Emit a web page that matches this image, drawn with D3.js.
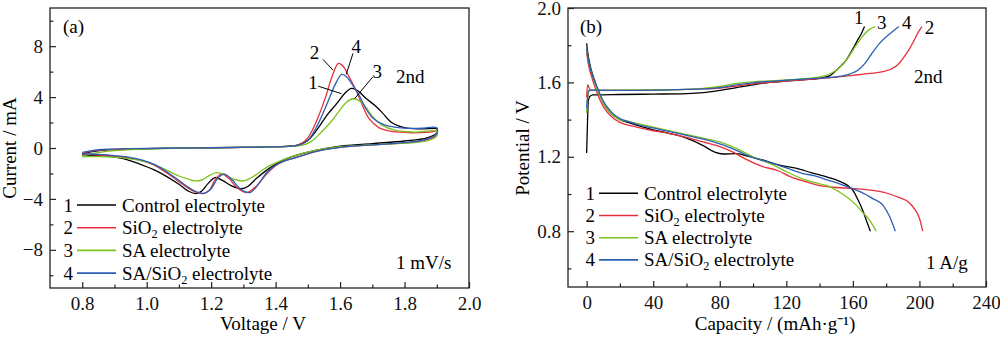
<!DOCTYPE html>
<html>
<head>
<meta charset="utf-8">
<script src="https://cdn.jsdelivr.net/npm/d3@7"></script>
<style>
  body { margin: 0; background: #fff; }
  svg text { font-family: "Liberation Serif", "Times New Roman", serif; }
</style>
</head>
<body>
<svg width="1000" height="337"></svg>
<script>
// Series names and colours (same order in both panels)
const seriesNames = ["Control electrolyte", "SiO2 electrolyte", "SA electrolyte", "SA/SiO2 electrolyte"];
const seriesColors = ["#000000", "#e8303c", "#7dc21c", "#2b5fb4"];

// (a) CV curves, [voltage V, current mA], anodic scan then cathodic scan
const cvControl = [[0.80,-0.50],[0.83,-0.28],[0.88,-0.15],[0.95,-0.08],[1.05,-0.03],[1.20,0.02],[1.35,0.08],[1.44,0.15],[1.47,0.25],[1.50,0.6],[1.53,1.5],[1.56,2.6],[1.59,3.5],[1.615,4.3],[1.635,4.68],[1.655,4.5],[1.68,3.9],[1.71,3.3],[1.73,2.8],[1.76,2.0],[1.80,1.6],[1.85,1.5],[1.90,1.5],
  [1.90,1.2],[1.87,0.8],[1.80,0.55],[1.70,0.35],[1.60,0.15],[1.52,-0.2],[1.46,-0.6],[1.42,-1.0],[1.38,-1.6],[1.34,-2.4],[1.315,-3.0],[1.294,-3.2],[1.265,-3.0],[1.235,-2.55],[1.212,-2.32],[1.19,-2.8],[1.17,-3.4],[1.153,-3.58],[1.13,-3.4],[1.10,-2.85],[1.03,-1.8],[0.98,-1.28],[0.93,-0.85],[0.876,-0.63],[0.84,-0.58],[0.80,-0.56]];
const cvSiO2 = [[0.80,-0.42],[0.83,-0.25],[0.88,-0.13],[0.95,-0.07],[1.05,-0.03],[1.20,0.02],[1.35,0.07],[1.44,0.13],[1.47,0.22],[1.50,0.8],[1.53,2.3],[1.555,4.0],[1.575,5.6],[1.595,6.64],[1.61,6.4],[1.63,5.5],[1.65,4.5],[1.67,3.3],[1.69,2.3],[1.72,1.6],[1.76,1.3],[1.82,1.2],[1.88,1.25],[1.90,1.3],
  [1.90,1.05],[1.87,0.65],[1.80,0.4],[1.70,0.25],[1.60,0.05],[1.52,-0.3],[1.47,-0.7],[1.43,-1.0],[1.40,-1.4],[1.37,-2.1],[1.34,-3.0],[1.31,-3.5],[1.28,-3.1],[1.255,-2.4],[1.232,-2.06],[1.212,-2.5],[1.195,-3.3],[1.176,-3.58],[1.15,-3.45],[1.12,-3.0],[1.07,-2.1],[1.02,-1.3],[0.96,-0.85],[0.90,-0.65],[0.85,-0.55],[0.80,-0.5]];
const cvSA = [[0.80,-0.65],[0.83,-0.45],[0.88,-0.25],[0.95,-0.12],[1.05,-0.04],[1.20,0.02],[1.35,0.07],[1.44,0.12],[1.48,0.2],[1.51,0.5],[1.54,1.2],[1.57,2.0],[1.60,3.0],[1.62,3.6],[1.64,3.87],[1.66,3.7],[1.68,3.2],[1.70,2.5],[1.73,1.8],[1.77,1.4],[1.83,1.25],[1.90,1.3],
  [1.90,0.95],[1.87,0.55],[1.80,0.38],[1.70,0.25],[1.60,0.1],[1.52,-0.2],[1.46,-0.6],[1.42,-0.95],[1.38,-1.4],[1.35,-1.9],[1.32,-2.4],[1.30,-2.59],[1.27,-2.45],[1.24,-2.05],[1.217,-1.93],[1.195,-2.15],[1.172,-2.5],[1.153,-2.59],[1.13,-2.45],[1.10,-2.2],[1.05,-1.6],[1.00,-1.1],[0.95,-0.85],[0.90,-0.72],[0.85,-0.68],[0.80,-0.68]];
const cvSASiO2 = [[0.80,-0.35],[0.83,-0.2],[0.88,-0.1],[0.95,-0.05],[1.05,-0.02],[1.20,0.02],[1.35,0.07],[1.44,0.13],[1.47,0.2],[1.50,0.6],[1.53,1.8],[1.56,3.5],[1.585,5.0],[1.605,5.78],[1.62,5.6],[1.64,4.9],[1.66,4.1],[1.68,3.1],[1.70,2.4],[1.73,1.9],[1.78,1.6],[1.85,1.55],[1.90,1.6],
  [1.90,1.15],[1.87,0.7],[1.80,0.42],[1.70,0.25],[1.60,0.05],[1.52,-0.3],[1.47,-0.7],[1.43,-1.0],[1.40,-1.35],[1.37,-2.0],[1.345,-2.9],[1.32,-3.5],[1.29,-3.2],[1.265,-2.5],[1.24,-2.06],[1.22,-2.4],[1.20,-3.2],[1.18,-3.55],[1.155,-3.45],[1.125,-3.0],[1.07,-2.0],[1.02,-1.25],[0.96,-0.8],[0.90,-0.6],[0.85,-0.5],[0.80,-0.45]];

// (b) charge / discharge curves, [capacity mAh/g, potential V]
const chargeControl = [[0,1.22],[0.5,1.38],[1,1.50],[2,1.525],[4,1.533],[20,1.535],[40,1.537],[60,1.54],[70,1.545],[80,1.557],[90,1.572],[100,1.587],[110,1.60],[120,1.607],[130,1.614],[140,1.622],[146,1.635],[150,1.665],[153,1.69],[156,1.72],[160,1.78],[163,1.83],[165,1.86],[167,1.9]];
const chargeSiO2 = [[0,1.52],[0.6,1.588],[1.5,1.57],[3,1.558],[20,1.557],[40,1.558],[60,1.562],[70,1.565],[80,1.57],[90,1.58],[100,1.592],[110,1.60],[120,1.607],[130,1.614],[140,1.62],[150,1.628],[160,1.638],[170,1.648],[178,1.658],[183,1.672],[187,1.695],[191,1.74],[194,1.78],[197,1.83],[199,1.865],[201.5,1.9]];
const chargeSA = [[0,1.435],[0.5,1.50],[1.2,1.55],[3,1.557],[20,1.558],[40,1.56],[60,1.563],[70,1.568],[80,1.578],[90,1.595],[100,1.603],[110,1.608],[120,1.613],[130,1.62],[140,1.63],[146,1.645],[150,1.665],[156,1.72],[162,1.80],[167,1.86],[170,1.885],[173.5,1.9]];
const chargeSASiO2 = [[0,1.46],[0.5,1.52],[1.3,1.557],[3,1.558],[20,1.557],[40,1.558],[60,1.562],[70,1.565],[80,1.572],[90,1.587],[100,1.598],[110,1.606],[120,1.612],[130,1.618],[140,1.623],[150,1.63],[158,1.645],[163,1.665],[167,1.70],[171,1.75],[176,1.81],[182,1.86],[187.5,1.9]];

const dischargeControl = [[0,1.81],[1,1.74],[3,1.66],[6,1.58],[10,1.49],[15,1.43],[20,1.40],[25,1.385],[30,1.37],[40,1.345],[50,1.325],[60,1.30],[70,1.26],[77,1.225],[82,1.215],[90,1.217],[96,1.205],[105,1.185],[116,1.155],[125,1.14],[135,1.115],[145,1.09],[152,1.068],[157,1.045],[160,1.02],[163,0.97],[166,0.91],[168,0.86],[170.5,0.80]];
const dischargeSiO2 = [[0,1.76],[1,1.70],[3,1.63],[6,1.55],[10,1.47],[15,1.415],[20,1.385],[25,1.37],[30,1.36],[40,1.34],[50,1.325],[60,1.305],[70,1.28],[80,1.255],[88,1.225],[95,1.19],[105,1.15],[115,1.125],[122,1.095],[130,1.07],[140,1.045],[150,1.035],[160,1.03],[168,1.024],[175,1.015],[182,1.0],[188,0.98],[193,0.96],[197,0.92],[200,0.87],[202,0.80]];
const dischargeSA = [[0,1.78],[1,1.72],[3,1.65],[6,1.57],[10,1.49],[15,1.43],[20,1.40],[25,1.39],[30,1.38],[40,1.36],[50,1.34],[60,1.32],[70,1.30],[80,1.28],[90,1.245],[100,1.20],[110,1.165],[120,1.12],[130,1.08],[140,1.055],[146,1.04],[152,1.01],[157,0.98],[162,0.94],[166,0.90],[170,0.86],[174,0.80]];
const dischargeSASiO2 = [[0,1.78],[1,1.72],[3,1.65],[6,1.58],[10,1.50],[15,1.44],[20,1.405],[25,1.39],[30,1.375],[40,1.355],[50,1.335],[60,1.315],[70,1.295],[80,1.27],[90,1.235],[100,1.195],[110,1.17],[120,1.14],[130,1.11],[136,1.10],[145,1.075],[152,1.055],[158,1.034],[165,1.01],[172,0.975],[178,0.94],[182,0.88],[185.5,0.80]];

// Tick values
const cvXMajor = [0.8, 1.0, 1.2, 1.4, 1.6, 1.8, 2.0];
const cvXMinor = [0.9, 1.1, 1.3, 1.5, 1.7, 1.9];
const cvYMajor = [-8, -4, 0, 4, 8];
const cvYMinor = [-10, -6, -2, 2, 6, 10];
const gcdXMajor = [0, 40, 80, 120, 160, 200, 240];
const gcdXMinor = [20, 60, 100, 140, 180, 220];
const gcdYMajor = [0.8, 1.2, 1.6, 2.0];
const gcdYMinor = [0.6, 1.0, 1.4, 1.8];

// Curve numbers: [label, text x, text y, line x1, y1, x2, y2] in data units
const cvNotes = [
  ["2", 1.521, 7.53, 1.547, 6.96, 1.578, 6.12],
  ["4", 1.650, 7.95, 1.640, 7.43, 1.619, 5.78],
  ["3", 1.715, 6.04, 1.702, 5.60, 1.645, 3.87],
  ["1", 1.516, 5.13, 1.532, 4.86, 1.604, 4.27]
];
const gcdNotes = [["1", 163.6, 1.948], ["3", 177.3, 1.924], ["4", 192.4, 1.924], ["2", 206.0, 1.894]];

const svg = d3.select("svg");
const FS = 19;
const SERIF = "'Liberation Serif', 'Times New Roman', serif";

// write "SiO2" with a subscript 2
function richText(sel, str) {
  const parts = str.split("O2");
  sel.append("tspan").text(parts[0] + (parts.length > 1 ? "O" : ""));
  if (parts.length > 1) {
    sel.append("tspan").attr("font-size", FS * 0.65).attr("dy", 4).text("2");
    sel.append("tspan").attr("dy", -4).text(parts[1]);
  }
}

function drawPanel(opt) {
  const g = svg.append("g");
  const x = d3.scaleLinear().domain(opt.xDomain).range([opt.left, opt.right]);
  const y = d3.scaleLinear().domain(opt.yDomain).range([opt.bottom, opt.top]);

  // axes with inward ticks
  g.append("g").attr("transform", `translate(0,${opt.bottom})`)
    .call(d3.axisBottom(x).tickValues(opt.xMajor).tickFormat(opt.xFmt).tickSizeInner(-6).tickSizeOuter(0).tickPadding(9));
  g.append("g").attr("transform", `translate(0,${opt.bottom})`)
    .call(d3.axisBottom(x).tickValues(opt.xMinor).tickFormat("").tickSizeInner(-3.5).tickSizeOuter(0));
  g.append("g").attr("transform", `translate(${opt.left},0)`)
    .call(d3.axisLeft(y).tickValues(opt.yMajor).tickFormat(opt.yFmt).tickSizeInner(-6).tickSizeOuter(0).tickPadding(7));
  g.append("g").attr("transform", `translate(${opt.left},0)`)
    .call(d3.axisLeft(y).tickValues(opt.yMinor).tickFormat("").tickSizeInner(-3.5).tickSizeOuter(0));
  g.selectAll(".domain").remove();
  g.selectAll(".tick line").attr("stroke", "#222").attr("stroke-width", 1.2);
  g.selectAll(".tick text").attr("font-size", FS).attr("fill", "#111");

  // frame
  g.append("rect")
    .attr("x", opt.left).attr("y", opt.top)
    .attr("width", opt.right - opt.left).attr("height", opt.bottom - opt.top)
    .attr("fill", "none").attr("stroke", "#222").attr("stroke-width", 1.3);

  // curves
  const line = d3.line().x(d => x(d[0])).y(d => y(d[1])).curve(opt.curve);
  opt.series.forEach(s => {
    g.append("path").datum(s.data)
      .attr("fill", "none").attr("stroke", s.color).attr("stroke-width", 1.3)
      .attr("d", line);
  });

  // axis titles
  g.append("text").attr("x", (opt.left + opt.right) / 2 + opt.xTitleShift).attr("y", 330)
    .attr("text-anchor", "middle").attr("font-size", FS).text(opt.xTitle);
  g.append("text").attr("transform", `translate(${opt.yTitleX},148) rotate(-90)`)
    .attr("text-anchor", "middle").attr("font-size", FS).text(opt.yTitle);

  // legend
  seriesNames.forEach((name, i) => {
    const ly = opt.legendY + i * opt.legendStep;
    g.append("text").attr("x", opt.legendX).attr("y", ly + 6.5)
      .attr("text-anchor", "end").attr("font-size", FS).text(i + 1);
    g.append("line").attr("x1", opt.legendX + 4).attr("x2", opt.legendX + 43)
      .attr("y1", ly).attr("y2", ly)
      .attr("stroke", seriesColors[i]).attr("stroke-width", 1.6);
    const t = g.append("text").attr("x", opt.legendX + 49).attr("y", ly + 6.5).attr("font-size", FS);
    richText(t, name);
  });

  return { g, x, y };
}

// Panel (a): cyclic voltammetry
const pa = drawPanel({
  left: 50, right: 469, top: 8, bottom: 288,
  xDomain: [0.7, 2.0], yDomain: [-11, 11],
  xMajor: cvXMajor, xMinor: cvXMinor, yMajor: cvYMajor, yMinor: cvYMinor,
  xFmt: d3.format(".1f"), yFmt: d3.format("d"),
  curve: d3.curveCatmullRom.alpha(0.5),
  series: [cvControl, cvSiO2, cvSA, cvSASiO2].map((d, i) => ({ data: d, color: seriesColors[i] })),
  xTitle: "Voltage / V", xTitleShift: 3.5, yTitle: "Current / mA", yTitleX: 16,
  legendX: 73, legendY: 205, legendStep: 22.7
});
cvNotes.forEach(n => {
  pa.g.append("line")
    .attr("x1", pa.x(n[3])).attr("y1", pa.y(n[4]))
    .attr("x2", pa.x(n[5])).attr("y2", pa.y(n[6]))
    .attr("stroke", "#000").attr("stroke-width", 1);
  pa.g.append("text").attr("x", pa.x(n[1])).attr("y", pa.y(n[2]) + 6.5)
    .attr("text-anchor", "middle").attr("font-size", FS).text(n[0]);
});
pa.g.append("text").attr("x", 63).attr("y", 33).attr("font-size", FS).text("(a)");
pa.g.append("text").attr("x", 396).attr("y", 83).attr("font-size", FS).text("2nd");
pa.g.append("text").attr("x", 396).attr("y", 269).attr("font-size", FS).text("1 mV/s");

// Panel (b): galvanostatic charge / discharge
const gcdSeries = [];
[[chargeControl, dischargeControl], [chargeSiO2, dischargeSiO2], [chargeSA, dischargeSA], [chargeSASiO2, dischargeSASiO2]]
  .forEach((pair, i) => pair.forEach(d => gcdSeries.push({ data: d, color: seriesColors[i] })));
const pb = drawPanel({
  left: 568, right: 986, top: 8, bottom: 287,
  xDomain: [-11.2, 240], yDomain: [0.5, 2.0],
  xMajor: gcdXMajor, xMinor: gcdXMinor, yMajor: gcdYMajor, yMinor: gcdYMinor,
  xFmt: d3.format("d"), yFmt: d3.format(".1f"),
  curve: d3.curveMonotoneX,
  series: gcdSeries,
  xTitle: "Capacity / (mAh·g\u207B\u00B9)", xTitleShift: -2, yTitle: "Potential / V", yTitleX: 529,
  legendX: 595, legendY: 193.3, legendStep: 22.2
});
gcdNotes.forEach(n => {
  pb.g.append("text").attr("x", pb.x(n[1])).attr("y", pb.y(n[2]) + 6.5)
    .attr("text-anchor", "middle").attr("font-size", FS).text(n[0]);
});
pb.g.append("text").attr("x", 580).attr("y", 33).attr("font-size", FS).text("(b)");
pb.g.append("text").attr("x", 914).attr("y", 83).attr("font-size", FS).text("2nd");
pb.g.append("text").attr("x", 926).attr("y", 269).attr("font-size", FS).text("1 A/g");

svg.selectAll("text").style("font-family", SERIF);
</script>
</body>
</html>
